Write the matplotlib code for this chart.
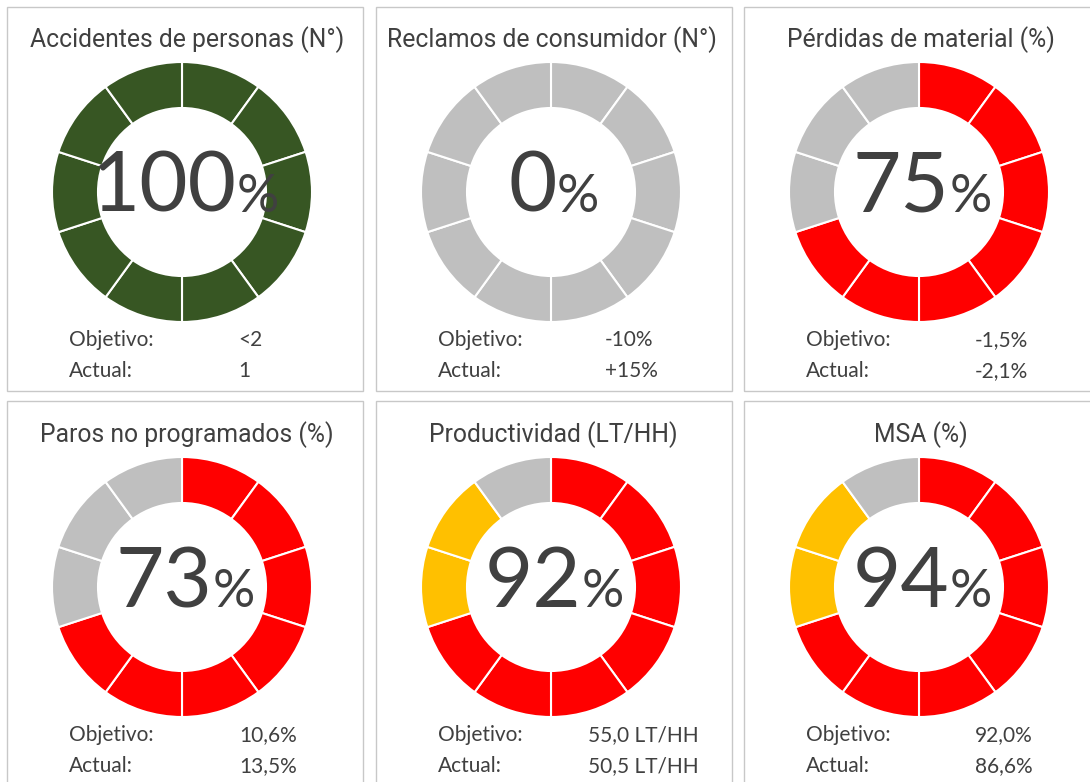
import matplotlib
matplotlib.use('Agg')
import matplotlib.pyplot as plt
from matplotlib.patches import Rectangle

# KPI data
titles = ['Accidentes de personas (N°)', 'Reclamos de consumidor (N°)',
          'Pérdidas de material (%)', 'Paros no programados (%)',
          'Productividad (LT/HH)', 'MSA (%)']
pct = [100, 0, 75, 73, 92, 94]
filled = [10, 0, 7, 7, 7, 7]      # segments in the main colour
warned = [0, 0, 0, 0, 2, 2]       # segments in yellow
main_color = ['#375623', '#ff0000', '#ff0000', '#ff0000', '#ff0000', '#ff0000']
objetivo = ['<2', '-10%', '-1,5%', '10,6%', '55,0 LT/HH', '92,0%']
actual = ['1', '+15%', '-2,1%', '13,5%', '50,5 LT/HH', '86,6%']
n_seg = 10

YELLOW = '#ffc000'
GRAY = '#bfbfbf'
TXT = '#404040'

W, H = 1090, 782
fig = plt.figure(figsize=(W / 100, H / 100), dpi=100)
fig.patch.set_facecolor('white')
ax = fig.add_axes([0, 0, 1, 1])

# panel geometry (pixels from top-left)
col_cx = [182, 551, 919]
row_cy = [192, 587]
box_left = [7, 375.5, 744]
box_top = [7, 401]
box_h = [383.5, 420]
val_dx = [56, 54, 56, 57, 37, 56]
title_cx = [187, 552, 921, 187, 553, 921]

title_font = ['Roboto', 'DejaVu Sans']
body_font = ['Lato', 'DejaVu Sans']

big = []
heads = []
for i in range(6):
    r, c = divmod(i, 3)
    cx = col_cx[c]
    cy = H - row_cy[r]

    ax.add_patch(Rectangle((box_left[c], H - box_top[r] - box_h[r]), 356, box_h[r],
                           facecolor='none', edgecolor='#c8c8c8', lw=1.0))

    cols = []
    for k in range(n_seg):
        if k < filled[i]:
            cols.append(main_color[i])
        elif k < filled[i] + warned[i]:
            cols.append(YELLOW)
        else:
            cols.append(GRAY)
    ax.pie([1] * n_seg, colors=cols, radius=130, center=(cx, cy),
           startangle=90, counterclock=False,
           wedgeprops=dict(width=46, edgecolor='white', linewidth=1.5))

    heads.append(ax.text(title_cx[i], cy + 144.5, titles[i], ha='center', va='baseline',
                         fontsize=20, color=TXT, family=title_font))

    ax.text(cx - 113, cy - 154, 'Objetivo:', ha='left', va='baseline',
            fontsize=15, color=TXT, family=body_font)
    ax.text(cx - 113, cy - 185, 'Actual:', ha='left', va='baseline',
            fontsize=15, color=TXT, family=body_font)
    ax.text(cx + val_dx[i], cy - 154, objetivo[i], ha='left', va='baseline',
            fontsize=15, color=TXT, family=body_font)
    ax.text(cx + val_dx[i], cy - 185, actual[i], ha='left', va='baseline',
            fontsize=15, color=TXT, family=body_font)

    t1 = ax.text(cx, cy - 20, str(pct[i]), ha='left', va='baseline',
                 fontsize=60, color=TXT, family=body_font)
    t2 = ax.text(cx, cy - 20, '%', ha='left', va='baseline',
                 fontsize=38, color=TXT, family=body_font)
    big.append((cx, t1, t2))

ax.set_xlim(0, W)
ax.set_ylim(0, H)
ax.set_aspect('equal')
ax.axis('off')

fig.canvas.draw()
rend = fig.canvas.get_renderer()

# titles are a narrow face in the original: fit the first one to its width
w = heads[0].get_window_extent(rend).width
size = 20 * 313 / w
for t in heads:
    t.set_fontsize(size)

# center number + percent sign together in the ring
for cx, t1, t2 in big:
    w1 = t1.get_window_extent(rend).width
    w2 = t2.get_window_extent(rend).width
    x0 = cx + 3 - (w1 + w2) / 2
    t1.set_x(x0)
    t2.set_x(x0 + w1)

fig.savefig('out.png', dpi=100, facecolor='white')
